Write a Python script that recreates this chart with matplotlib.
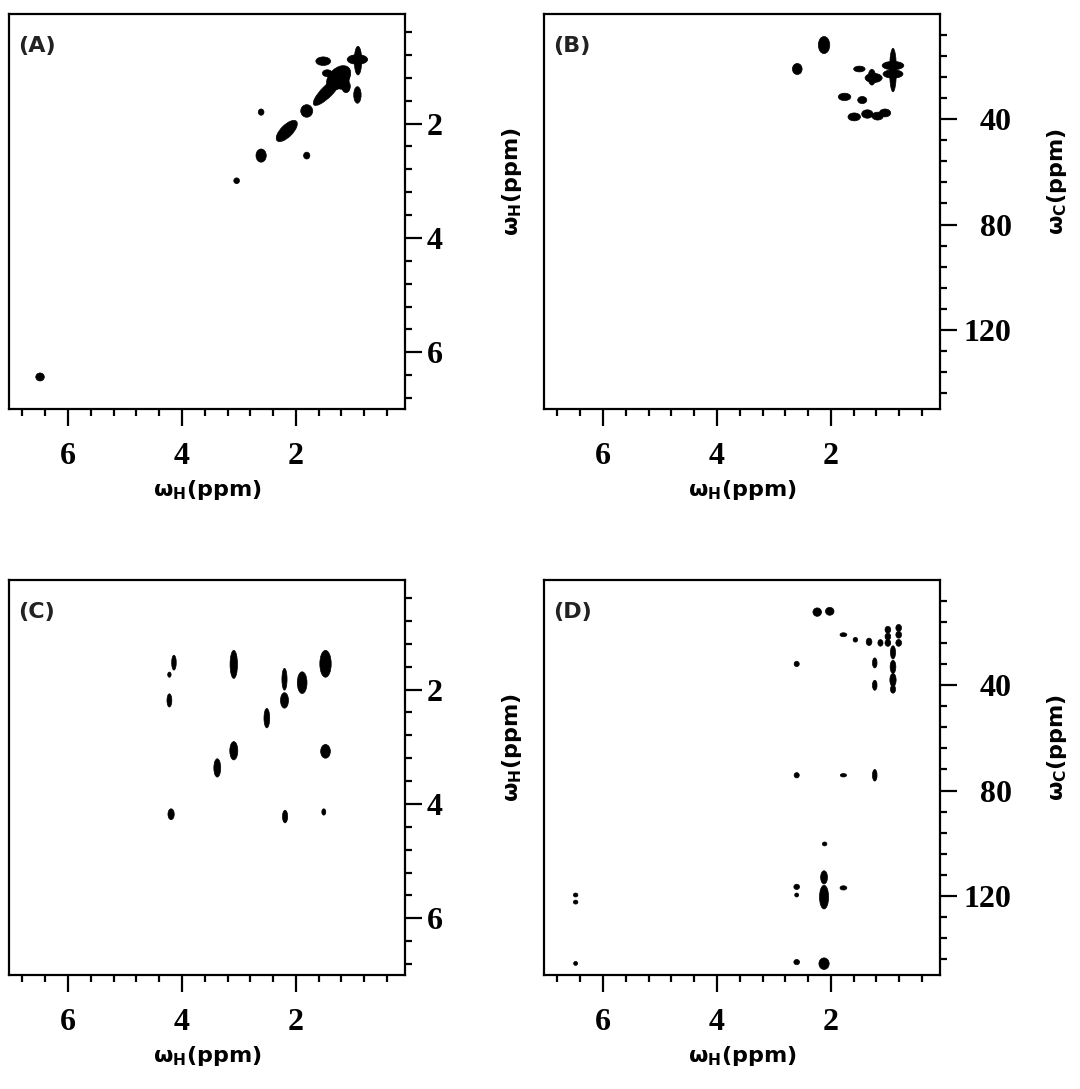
import matplotlib
matplotlib.use("Agg")
import matplotlib.pyplot as plt
from matplotlib.patches import Ellipse

plt.rcParams["font.family"] = ["DejaVu Sans"]
plt.rcParams["mathtext.fontset"] = "dejavusans"

# ---------------------------------------------------------------------------
# Axis ticks (ppm)
h_ticks = [2, 4, 6]
h_tick_labels = ["2", "4", "6"]
h_minor = [0.4, 0.8, 1.2, 1.6, 2.4, 2.8, 3.2, 3.6, 4.4, 4.8, 5.2, 5.6, 6.4, 6.8]
c_ticks = [40, 80, 120]
c_tick_labels = ["40", "80", "120"]
c_minor = [8, 16, 24, 32, 48, 56, 64, 72, 88, 96, 104, 112, 128, 136, 144]

# Peak lists: (wH ppm, second-dimension ppm, width, height, tilt in degrees)
# (A) 1H-1H COSY
cosy_peaks = [
    (0.91, 0.90, 0.13, 0.50, 0),
    (0.92, 0.88, 0.36, 0.17, 0),
    (1.52, 0.91, 0.26, 0.15, 0),
    (1.25, 1.20, 0.50, 0.33, 45),
    (1.20, 1.22, 0.27, 0.36, 0),
    (1.45, 1.12, 0.17, 0.12, 0),
    (1.12, 1.35, 0.15, 0.22, 0),
    (1.45, 1.44, 0.66, 0.20, 45),
    (0.92, 1.50, 0.13, 0.29, 0),
    (1.81, 1.78, 0.21, 0.22, 0),
    (2.61, 1.80, 0.10, 0.11, 0),
    (2.16, 2.13, 0.48, 0.21, 45),
    (2.61, 2.56, 0.18, 0.23, 0),
    (1.81, 2.56, 0.11, 0.12, 0),
    (3.04, 3.00, 0.10, 0.10, 0),
    (6.49, 6.43, 0.15, 0.14, 0),
]

# (B) 1H-13C HSQC
hsqc_peaks = [
    (2.12, 11.8, 0.20, 6.5, 0),
    (2.59, 20.9, 0.17, 4.2, 0),
    (1.50, 20.9, 0.20, 2.2, 0),
    (0.91, 21.3, 0.12, 16.5, 0),
    (0.91, 19.6, 0.38, 3.2, 0),
    (0.91, 22.8, 0.35, 3.2, 0),
    (1.25, 24.3, 0.30, 3.5, 0),
    (1.28, 24.0, 0.13, 6.0, 0),
    (1.76, 31.5, 0.22, 2.8, 0),
    (1.45, 32.7, 0.16, 2.7, 0),
    (1.59, 39.1, 0.22, 3.0, 0),
    (1.36, 38.0, 0.20, 3.2, 0),
    (1.18, 38.8, 0.20, 3.0, 0),
    (1.05, 37.6, 0.20, 3.0, 0),
]

# (C) 1H-1H TOCSY
tocsy_peaks = [
    (4.14, 1.53, 0.08, 0.26, 0),
    (4.22, 1.74, 0.06, 0.09, 0),
    (4.22, 2.19, 0.085, 0.23, 0),
    (3.09, 1.56, 0.13, 0.49, 0),
    (2.20, 1.82, 0.09, 0.38, 0),
    (2.20, 2.19, 0.14, 0.27, 0),
    (1.89, 1.88, 0.17, 0.38, 0),
    (1.48, 1.55, 0.20, 0.47, 0),
    (2.51, 2.50, 0.10, 0.34, 0),
    (3.09, 3.07, 0.14, 0.32, 0),
    (3.38, 3.37, 0.12, 0.32, 0),
    (1.48, 3.08, 0.17, 0.24, 0),
    (4.19, 4.18, 0.11, 0.19, 0),
    (2.19, 4.22, 0.09, 0.22, 0),
    (1.51, 4.14, 0.07, 0.11, 0),
]

# (D) 1H-13C HMBC
hmbc_peaks = [
    (2.24, 12.2, 0.15, 3.2, 0),
    (2.02, 11.9, 0.15, 3.0, 0),
    (1.78, 20.8, 0.12, 1.5, 0),
    (1.57, 22.7, 0.08, 1.8, 0),
    (1.33, 23.5, 0.10, 2.8, 0),
    (1.13, 23.9, 0.09, 2.5, 0),
    (1.00, 18.9, 0.10, 2.6, 0),
    (1.00, 21.5, 0.10, 2.6, 0),
    (1.00, 23.9, 0.10, 2.6, 0),
    (0.81, 18.2, 0.10, 2.6, 0),
    (0.81, 20.8, 0.10, 2.6, 0),
    (0.81, 23.9, 0.10, 2.6, 0),
    (0.91, 27.5, 0.09, 5.0, 0),
    (0.91, 33.0, 0.10, 5.0, 0),
    (0.91, 38.0, 0.11, 5.0, 0),
    (0.91, 41.5, 0.09, 3.0, 0),
    (1.23, 31.5, 0.08, 3.8, 0),
    (1.23, 40.0, 0.08, 3.8, 0),
    (2.60, 31.9, 0.09, 2.0, 0),
    (2.60, 74.2, 0.09, 2.0, 0),
    (1.78, 74.2, 0.11, 1.3, 0),
    (1.23, 74.2, 0.08, 4.4, 0),
    (2.11, 100.3, 0.08, 1.5, 0),
    (2.60, 116.6, 0.10, 2.0, 0),
    (2.60, 119.7, 0.07, 1.5, 0),
    (2.12, 113.0, 0.12, 5.0, 0),
    (2.12, 120.5, 0.16, 9.0, 0),
    (1.78, 117.0, 0.12, 1.6, 0),
    (6.48, 119.7, 0.08, 1.5, 0),
    (6.48, 122.4, 0.08, 1.5, 0),
    (6.48, 145.7, 0.07, 1.5, 0),
    (2.60, 145.2, 0.10, 2.0, 0),
    (2.12, 145.8, 0.18, 4.4, 0),
]

# ---------------------------------------------------------------------------
W, H = 1080, 1089
fig = plt.figure(figsize=(W / 100, H / 100), dpi=100)

def frac_rect(left, top, right, bottom):
    return [left / W, 1 - bottom / H, (right - left) / W, (bottom - top) / H]

panels = [
    ("(A)", cosy_peaks, "H", frac_rect(9, 14, 405, 409)),
    ("(B)", hsqc_peaks, "C", frac_rect(544, 14, 940, 409)),
    ("(C)", tocsy_peaks, "H", frac_rect(9, 580, 405, 975)),
    ("(D)", hmbc_peaks, "C", frac_rect(544, 580, 940, 975)),
]

tick_font = dict(family="Liberation Serif", weight="bold", size=23)
label_font = dict(family="DejaVu Sans", weight="bold", size=16)

for tag, peaks, nucleus, rect in panels:
    ax = fig.add_axes(rect)
    for x, y, w, h, a in peaks:
        ax.add_patch(Ellipse((x, y), w, h, angle=a, facecolor="black",
                             edgecolor="black", linewidth=0.5))

    ax.set_xlim(7.035, 0.085)
    ax.set_xticks(h_ticks, h_tick_labels, **tick_font)
    ax.set_xticks(h_minor, minor=True)

    ax.yaxis.tick_right()
    ax.yaxis.set_label_position("right")
    if nucleus == "H":
        ax.set_ylim(6.99, 0.085)
        ax.set_yticks(h_ticks, h_tick_labels, **tick_font)
        ax.set_yticks(h_minor, minor=True)
        ypad = 3
        ylab_x = 1.24
    else:
        ax.set_ylim(150.1, 0.0)
        ax.set_yticks(c_ticks, c_tick_labels, ha="right", **tick_font)
        ax.set_yticks(c_minor, minor=True)
        ypad = 39
        ylab_x = 1.265

    ax.tick_params(axis="x", which="major", length=12.5, width=1.6, pad=11)
    ax.tick_params(axis="y", which="major", length=12.5, width=1.6, pad=ypad)
    ax.tick_params(which="minor", length=5, width=1.6)
    for s in ax.spines.values():
        s.set_linewidth(1.6)

    ax.set_xlabel(r"$\mathbf{\omega}_{\mathbf{H}}$(ppm)", **label_font)
    ax.xaxis.set_label_coords(0.5, -0.175)
    ax.set_ylabel(r"$\mathbf{\omega}_{\mathbf{%s}}$(ppm)" % nucleus, **label_font)
    ax.yaxis.set_label_coords(ylab_x, 0.575)

    ax.text(0.022, 0.92, tag, transform=ax.transAxes, ha="left", va="center",
            fontsize=16, fontweight="bold", color="#222222")

fig.savefig("out.png", dpi=100)
